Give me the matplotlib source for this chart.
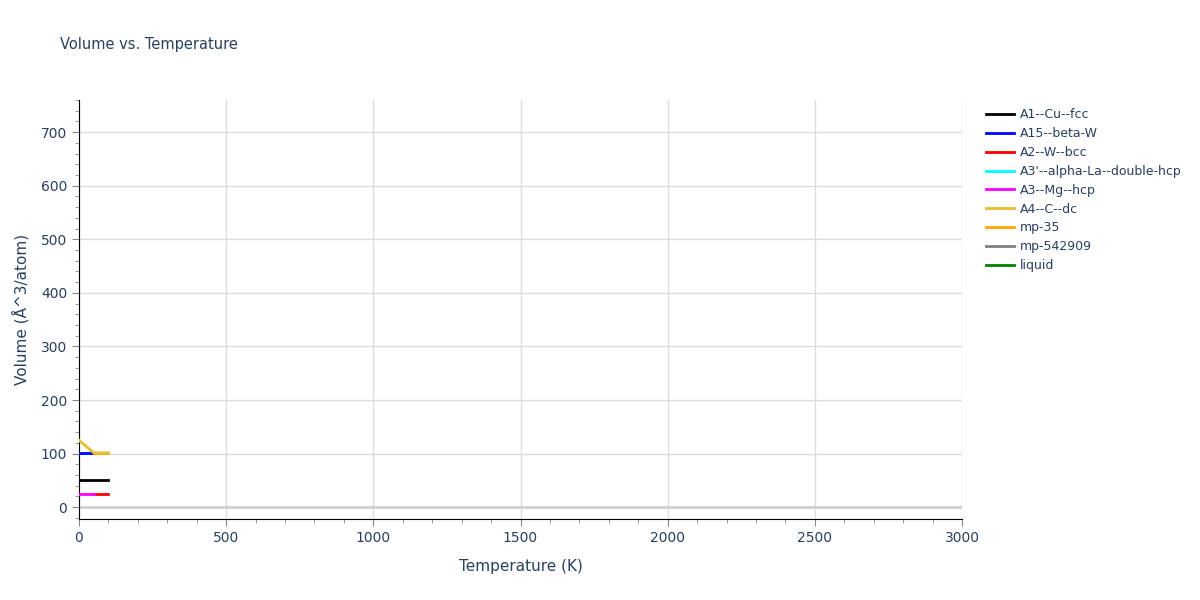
import matplotlib
matplotlib.use("Agg")
import matplotlib.pyplot as plt
from matplotlib.ticker import MultipleLocator

series_names = ["A1--Cu--fcc", "A15--beta-W", "A2--W--bcc", "A3'--alpha-La--double-hcp",
                "A3--Mg--hcp", "A4--C--dc", "mp-35", "mp-542909", "liquid"]
colors = ["black", "blue", "red", "cyan", "magenta", "#e6c02e", "orange", "grey", "green"]

a1_T = [0, 50, 100]; a1_V = [50.5, 50.5, 50.5]
a15_T = [0, 50]; a15_V = [101.5, 101.5]
a2_T = [50, 100]; a2_V = [25.2, 25.2]
a3p_T = [0, 50]; a3p_V = [101.0, 101.0]
a3_T = [0, 50]; a3_V = [25.2, 25.2]
a4_T = [0, 50, 100]; a4_V = [125.0, 101.5, 101.5]
mp35_T = [50, 100]; mp35_V = [101.5, 101.5]
mp54_T = [30, 100]; mp54_V = [100.5, 100.5]
liq_T = []; liq_V = []

data = [(a1_T, a1_V), (a15_T, a15_V), (a2_T, a2_V), (a3p_T, a3p_V), (a3_T, a3_V),
        (a4_T, a4_V), (mp35_T, mp35_V), (mp54_T, mp54_V), (liq_T, liq_V)]

fig = plt.figure(figsize=(12, 6), dpi=100)
ax = fig.add_axes([79/1200, 1-519/600, (962-79)/1200, (519-100)/600])

txt = "#2a3f5f"
ax.axhline(0, color="#d0d0d0", lw=2, zorder=1)
order = [7, 3, 0, 1, 2, 4, 8, 6, 5]
for i in order:
    T, V = data[i]
    alpha = 0.5 if i == 7 else 1.0
    ax.plot(T, V, color=colors[i], lw=2, zorder=3, alpha=alpha)
leg_handles = []
for i in range(len(series_names)):
    h, = ax.plot([], [], color=colors[i], lw=2, label=series_names[i])
    leg_handles.append(h)

ax.set_xlim(0, 3000)
ax.set_ylim(-22, 760)
ax.xaxis.set_major_locator(MultipleLocator(500))
ax.xaxis.set_minor_locator(MultipleLocator(100))
ax.yaxis.set_major_locator(MultipleLocator(100))
ax.yaxis.set_minor_locator(MultipleLocator(20))
ax.grid(True, which="major", color="#dcdcdc", lw=1, zorder=0)
ax.set_axisbelow(True)
for s in ["top", "right"]:
    ax.spines[s].set_visible(False)
ax.spines["left"].set_color("black")
ax.spines["bottom"].set_color("black")
ax.tick_params(axis="both", which="major", length=5, color="#888888", labelcolor=txt, labelsize=10, direction="out")
ax.tick_params(axis="both", which="minor", length=3, color="#888888", direction="out")
ax.set_xlabel("Temperature (K)", color=txt, fontsize=11, labelpad=10)
ax.set_ylabel("Volume (Å^3/atom)", color=txt, fontsize=11, labelpad=8)
fig.text(60/1200, 1-45/600, "Volume vs. Temperature", color=txt, fontsize=10.5, va="center")

leg = fig.legend(handles=leg_handles, labels=series_names, loc="upper left",
                 bbox_to_anchor=(975/1200, 1-97/600), frameon=False, fontsize=9,
                 handlelength=2.2, labelspacing=0.47, handletextpad=0.5)
for t in leg.get_texts():
    t.set_color(txt)

fig.savefig("out.png", dpi=100)
